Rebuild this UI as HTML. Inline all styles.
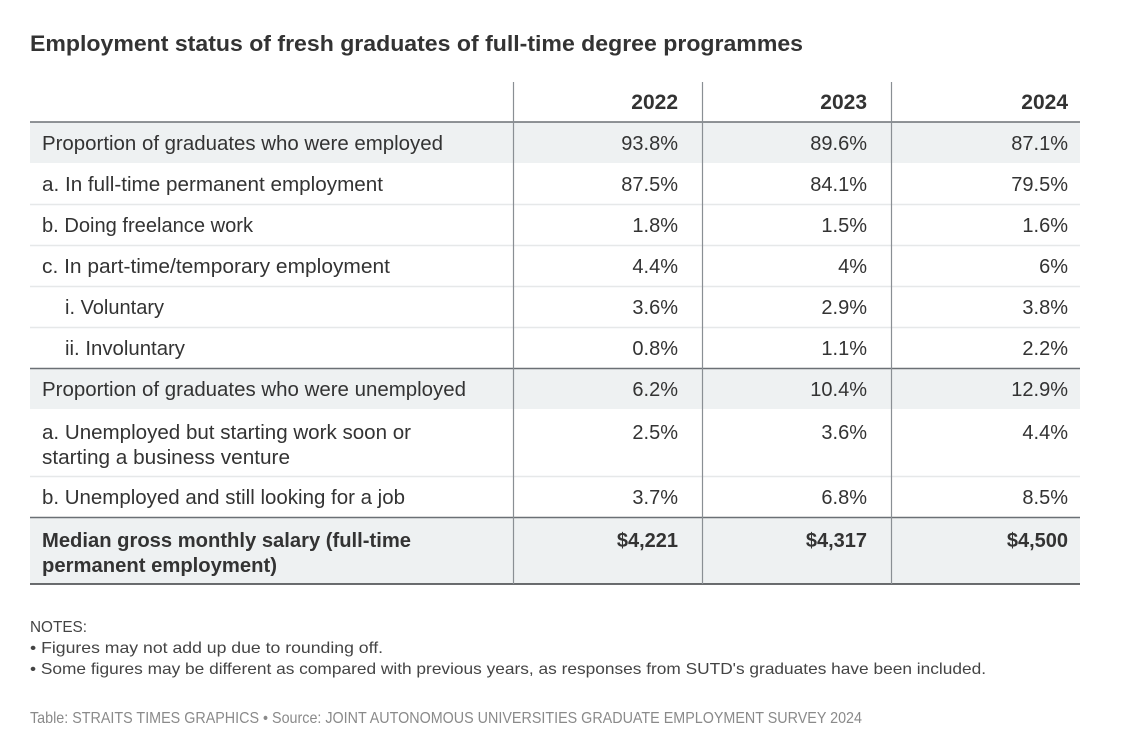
<!DOCTYPE html>
<html><head><meta charset="utf-8"><style>
html,body{margin:0;padding:0;background:#fff;}
svg{display:block;}
text{font-family:"Liberation Sans",sans-serif;fill:#333;}
.l{font-size:20px;}
.b{font-weight:bold;}
.v{font-size:20px;text-anchor:end;}
.n{font-size:16px;fill:#444;}
.s{font-size:16px;fill:#8a8a8a;}
</style></head><body>
<svg width="1123" height="740" viewBox="0 0 1123 740" xmlns="http://www.w3.org/2000/svg">
<rect x="0" y="0" width="1123" height="740" fill="#fff"/>
<text x="30" y="51" class="b" style="font-size:22px" textLength="773" lengthAdjust="spacingAndGlyphs">Employment status of fresh graduates of full-time degree programmes</text>

<!-- shaded rows -->
<rect x="30" y="122" width="1050" height="41" fill="#eef1f2"/>
<rect x="30" y="368" width="1050" height="41" fill="#eef1f2"/>
<rect x="30" y="517" width="1050" height="67" fill="#eef1f2"/>

<!-- light separators -->
<g stroke="#e6e8e9" stroke-width="1.5">
<line x1="30" y1="204.5" x2="1080" y2="204.5"/>
<line x1="30" y1="245.5" x2="1080" y2="245.5"/>
<line x1="30" y1="286.5" x2="1080" y2="286.5"/>
<line x1="30" y1="327.5" x2="1080" y2="327.5"/>
<line x1="30" y1="476.5" x2="1080" y2="476.5"/>
</g>
<!-- dark lines -->
<g stroke="#6b7075" stroke-width="1.5">
<line x1="30" y1="122" x2="1080" y2="122"/>
<line x1="30" y1="368.5" x2="1080" y2="368.5"/>
<line x1="30" y1="517.5" x2="1080" y2="517.5"/>
</g>
<line x1="30" y1="584" x2="1080" y2="584" stroke="#3a3d40" stroke-width="1.5"/>
<!-- vertical lines -->
<g stroke="#8a8f94" stroke-width="1.2">
<line x1="513.5" y1="82" x2="513.5" y2="584"/>
<line x1="702.5" y1="82" x2="702.5" y2="584"/>
<line x1="891.5" y1="82" x2="891.5" y2="584"/>
</g>

<!-- header -->
<text x="678" y="109" class="b" style="font-size:21px" text-anchor="end">2022</text>
<text x="867" y="109" class="b" style="font-size:21px" text-anchor="end">2023</text>
<text x="1068" y="109" class="b" style="font-size:21px" text-anchor="end">2024</text>

<!-- labels -->
<text x="42" y="150" class="l" textLength="401" lengthAdjust="spacingAndGlyphs">Proportion of graduates who were employed</text>
<text x="42" y="191" class="l" textLength="341" lengthAdjust="spacingAndGlyphs">a. In full-time permanent employment</text>
<text x="42" y="232" class="l" textLength="211" lengthAdjust="spacingAndGlyphs">b. Doing freelance work</text>
<text x="42" y="273" class="l" textLength="348" lengthAdjust="spacingAndGlyphs">c. In part-time/temporary employment</text>
<text x="65" y="314" class="l" textLength="99" lengthAdjust="spacingAndGlyphs">i. Voluntary</text>
<text x="65" y="355" class="l" textLength="120" lengthAdjust="spacingAndGlyphs">ii. Involuntary</text>
<text x="42" y="396" class="l" textLength="424" lengthAdjust="spacingAndGlyphs">Proportion of graduates who were unemployed</text>
<text x="42" y="439" class="l" textLength="369" lengthAdjust="spacingAndGlyphs">a. Unemployed but starting work soon or</text>
<text x="42" y="464" class="l" textLength="248" lengthAdjust="spacingAndGlyphs">starting a business venture</text>
<text x="42" y="504" class="l" textLength="363" lengthAdjust="spacingAndGlyphs">b. Unemployed and still looking for a job</text>
<text x="42" y="547" class="l b" textLength="369" lengthAdjust="spacingAndGlyphs">Median gross monthly salary (full-time</text>
<text x="42" y="572" class="l b" textLength="235" lengthAdjust="spacingAndGlyphs">permanent employment)</text>

<!-- values col 2022 -->
<g class="v">
<text x="678" y="150" class="v">93.8%</text>
<text x="678" y="191" class="v">87.5%</text>
<text x="678" y="232" class="v">1.8%</text>
<text x="678" y="273" class="v">4.4%</text>
<text x="678" y="314" class="v">3.6%</text>
<text x="678" y="355" class="v">0.8%</text>
<text x="678" y="396" class="v">6.2%</text>
<text x="678" y="439" class="v">2.5%</text>
<text x="678" y="504" class="v">3.7%</text>
<text x="678" y="547" class="v b">$4,221</text>

<text x="867" y="150" class="v">89.6%</text>
<text x="867" y="191" class="v">84.1%</text>
<text x="867" y="232" class="v">1.5%</text>
<text x="867" y="273" class="v">4%</text>
<text x="867" y="314" class="v">2.9%</text>
<text x="867" y="355" class="v">1.1%</text>
<text x="867" y="396" class="v">10.4%</text>
<text x="867" y="439" class="v">3.6%</text>
<text x="867" y="504" class="v">6.8%</text>
<text x="867" y="547" class="v b">$4,317</text>

<text x="1068" y="150" class="v">87.1%</text>
<text x="1068" y="191" class="v">79.5%</text>
<text x="1068" y="232" class="v">1.6%</text>
<text x="1068" y="273" class="v">6%</text>
<text x="1068" y="314" class="v">3.8%</text>
<text x="1068" y="355" class="v">2.2%</text>
<text x="1068" y="396" class="v">12.9%</text>
<text x="1068" y="439" class="v">4.4%</text>
<text x="1068" y="504" class="v">8.5%</text>
<text x="1068" y="547" class="v b">$4,500</text>
</g>

<!-- notes -->
<text x="30" y="632" class="n" textLength="57" lengthAdjust="spacingAndGlyphs">NOTES:</text>
<text x="30" y="653" class="n" textLength="353" lengthAdjust="spacingAndGlyphs">• Figures may not add up due to rounding off.</text>
<text x="30" y="674" class="n" textLength="956" lengthAdjust="spacingAndGlyphs">• Some figures may be different as compared with previous years, as responses from SUTD's graduates have been included.</text>
<text x="30" y="723" class="s" textLength="832" lengthAdjust="spacingAndGlyphs">Table: STRAITS TIMES GRAPHICS • Source: JOINT AUTONOMOUS UNIVERSITIES GRADUATE EMPLOYMENT SURVEY 2024</text>
</svg>
</body></html>
